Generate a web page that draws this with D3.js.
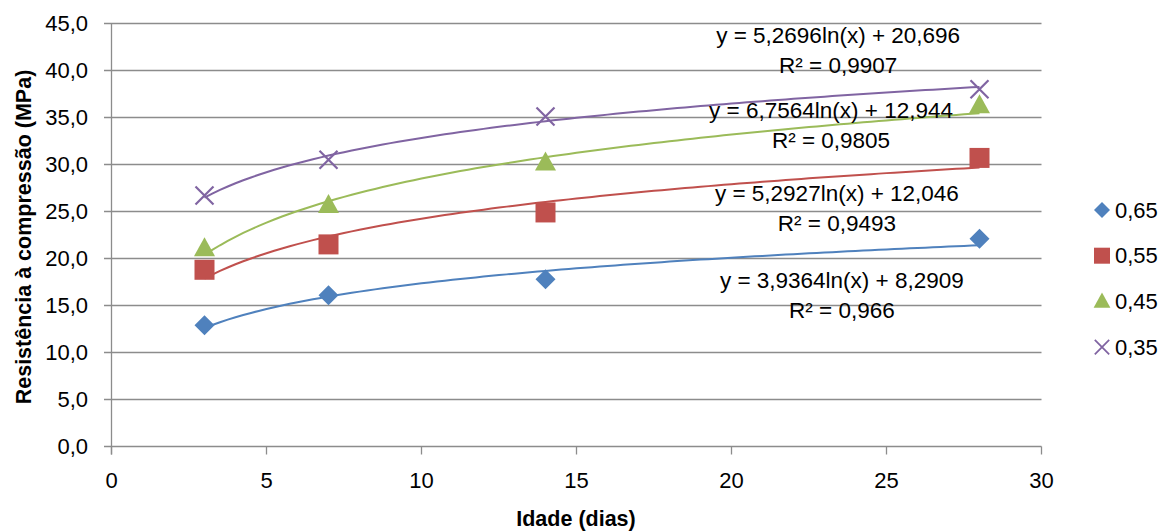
<!DOCTYPE html>
<html><head><meta charset="utf-8">
<script src="https://cdn.jsdelivr.net/npm/d3@7"></script>
<style>body{margin:0;background:#fff}text{font-family:"Liberation Sans",Arial,sans-serif;fill:#000}</style>
</head><body>
<svg id="c" width="1162" height="532"></svg>
<script>
const days = [3, 7, 14, 28];
const seriesNames = ["0,65", "0,55", "0,45", "0,35"];
const s065 = [12.9, 16.1, 17.8, 22.1];
const s055 = [18.8, 21.5, 24.9, 30.7];
const s045 = [21.1, 25.7, 30.2, 36.3];
const s035 = [26.7, 30.5, 35.1, 38.0];
const trendA = [3.9364, 5.2927, 6.7564, 5.2696];
const trendB = [8.2909, 12.046, 12.944, 20.696];
const eqLabels = ["y = 3,9364ln(x) + 8,2909", "y = 5,2927ln(x) + 12,046", "y = 6,7564ln(x) + 12,944", "y = 5,2696ln(x) + 20,696"];
const r2Labels = ["R² = 0,966", "R² = 0,9493", "R² = 0,9805", "R² = 0,9907"];
const yTicks = [0, 5, 10, 15, 20, 25, 30, 35, 40, 45];
const xTicks = [0, 5, 10, 15, 20, 25, 30];
const colors = ["#4F81BD", "#C0504D", "#9BBB59", "#8064A2"];
const values = [s065, s055, s045, s035];
const shapes = ["diamond", "square", "triangle", "cross"];
// label anchor positions in data units (x, y of equation line)
const eqPos = [[23.56, 17.71], [23.4, 26.97], [23.21, 35.8], [23.44, 43.78]];

const svg = d3.select("#c");
const x = d3.scaleLinear().domain([0, 30]).range([111.5, 1041.5]);
const y = d3.scaleLinear().domain([0, 45]).range([446.5, 23.5]);

// gridlines
svg.append("g").selectAll("line").data(yTicks).join("line")
  .attr("x1", 104).attr("x2", x(30)).attr("y1", d => y(d)).attr("y2", d => y(d))
  .attr("stroke", "#8c8c8c").attr("stroke-width", 1.3);
// y axis line
svg.append("line").attr("x1", x(0)).attr("x2", x(0)).attr("y1", y(45)).attr("y2", y(0) + 8)
  .attr("stroke", "#8c8c8c").attr("stroke-width", 1.3);
// x ticks
svg.append("g").selectAll("line").data(xTicks).join("line")
  .attr("x1", d => x(d)).attr("x2", d => x(d)).attr("y1", y(0)).attr("y2", y(0) + 8)
  .attr("stroke", "#8c8c8c").attr("stroke-width", 1.3);
// y labels
svg.append("g").selectAll("text").data(yTicks).join("text")
  .attr("x", 88).attr("y", d => y(d)).attr("dy", "0.35em").attr("text-anchor", "end")
  .style("font-size", "22px").text(d => d3.format(".1f")(d).replace(".", ","));
// x labels
svg.append("g").selectAll("text").data(xTicks).join("text")
  .attr("x", d => x(d)).attr("y", 480).attr("dy", "0.35em").attr("text-anchor", "middle")
  .style("font-size", "22px").text(d => d);
// axis titles
svg.append("text").attr("x", 576).attr("y", 518).attr("dy", "0.35em").attr("text-anchor", "middle")
  .style("font-size", "21.5px").style("font-weight", "bold").text("Idade (dias)");
svg.append("text").attr("transform", "translate(23,237) rotate(-90)").attr("dy", "0.35em")
  .attr("text-anchor", "middle").style("font-size", "21.5px").style("font-weight", "bold")
  .text("Resistência à compressão (MPa)");

// trendlines
const line = d3.line().x(d => x(d[0])).y(d => y(d[1]));
trendA.forEach((a, i) => {
  const pts = d3.range(3, 28.001, 0.25).map(t => [t, a * Math.log(t) + trendB[i]]);
  svg.append("path").attr("d", line(pts)).attr("fill", "none")
    .attr("stroke", colors[i]).attr("stroke-width", 2);
});

// markers
function marker(g, shape, color, cx, cy) {
  if (shape === "diamond") {
    g.append("path").attr("d", `M${cx},${cy - 10}L${cx + 10},${cy}L${cx},${cy + 10}L${cx - 10},${cy}Z`).attr("fill", color);
  } else if (shape === "square") {
    g.append("rect").attr("x", cx - 10).attr("y", cy - 10).attr("width", 20).attr("height", 20).attr("fill", color);
  } else if (shape === "triangle") {
    g.append("path").attr("d", `M${cx},${cy - 11}L${cx + 10.5},${cy + 8}L${cx - 10.5},${cy + 8}Z`).attr("fill", color);
  } else {
    g.append("path").attr("d", `M${cx - 9},${cy - 9}L${cx + 9},${cy + 9}M${cx + 9},${cy - 9}L${cx - 9},${cy + 9}`)
      .attr("stroke", color).attr("stroke-width", 2.2).attr("fill", "none");
  }
}
const mg = svg.append("g");
values.forEach((vals, i) => {
  vals.forEach((v, j) => marker(mg, shapes[i], colors[i], x(days[j]), y(v)));
});

// equation labels
eqLabels.forEach((t, i) => {
  const px = x(eqPos[i][0]), py = y(eqPos[i][1]);
  svg.append("text").attr("x", px).attr("y", py).attr("dy", "0.35em").attr("text-anchor", "middle")
    .style("font-size", "22.5px").text(t);
  svg.append("text").attr("x", px).attr("y", py + 30).attr("dy", "0.35em").attr("text-anchor", "middle")
    .style("font-size", "22.5px").text(r2Labels[i]);
});

// legend
const lg = svg.append("g");
seriesNames.forEach((n, i) => {
  const ly = 210 + i * 45.7;
  const lgm = lg.append("g").attr("transform", `translate(1102,${ly}) scale(0.8)`);
  marker(lgm, shapes[i], colors[i], 0, 0);
  lg.append("text").attr("x", 1115).attr("y", ly).attr("dy", "0.35em").style("font-size", "22px").text(n);
});
</script>
</body></html>
